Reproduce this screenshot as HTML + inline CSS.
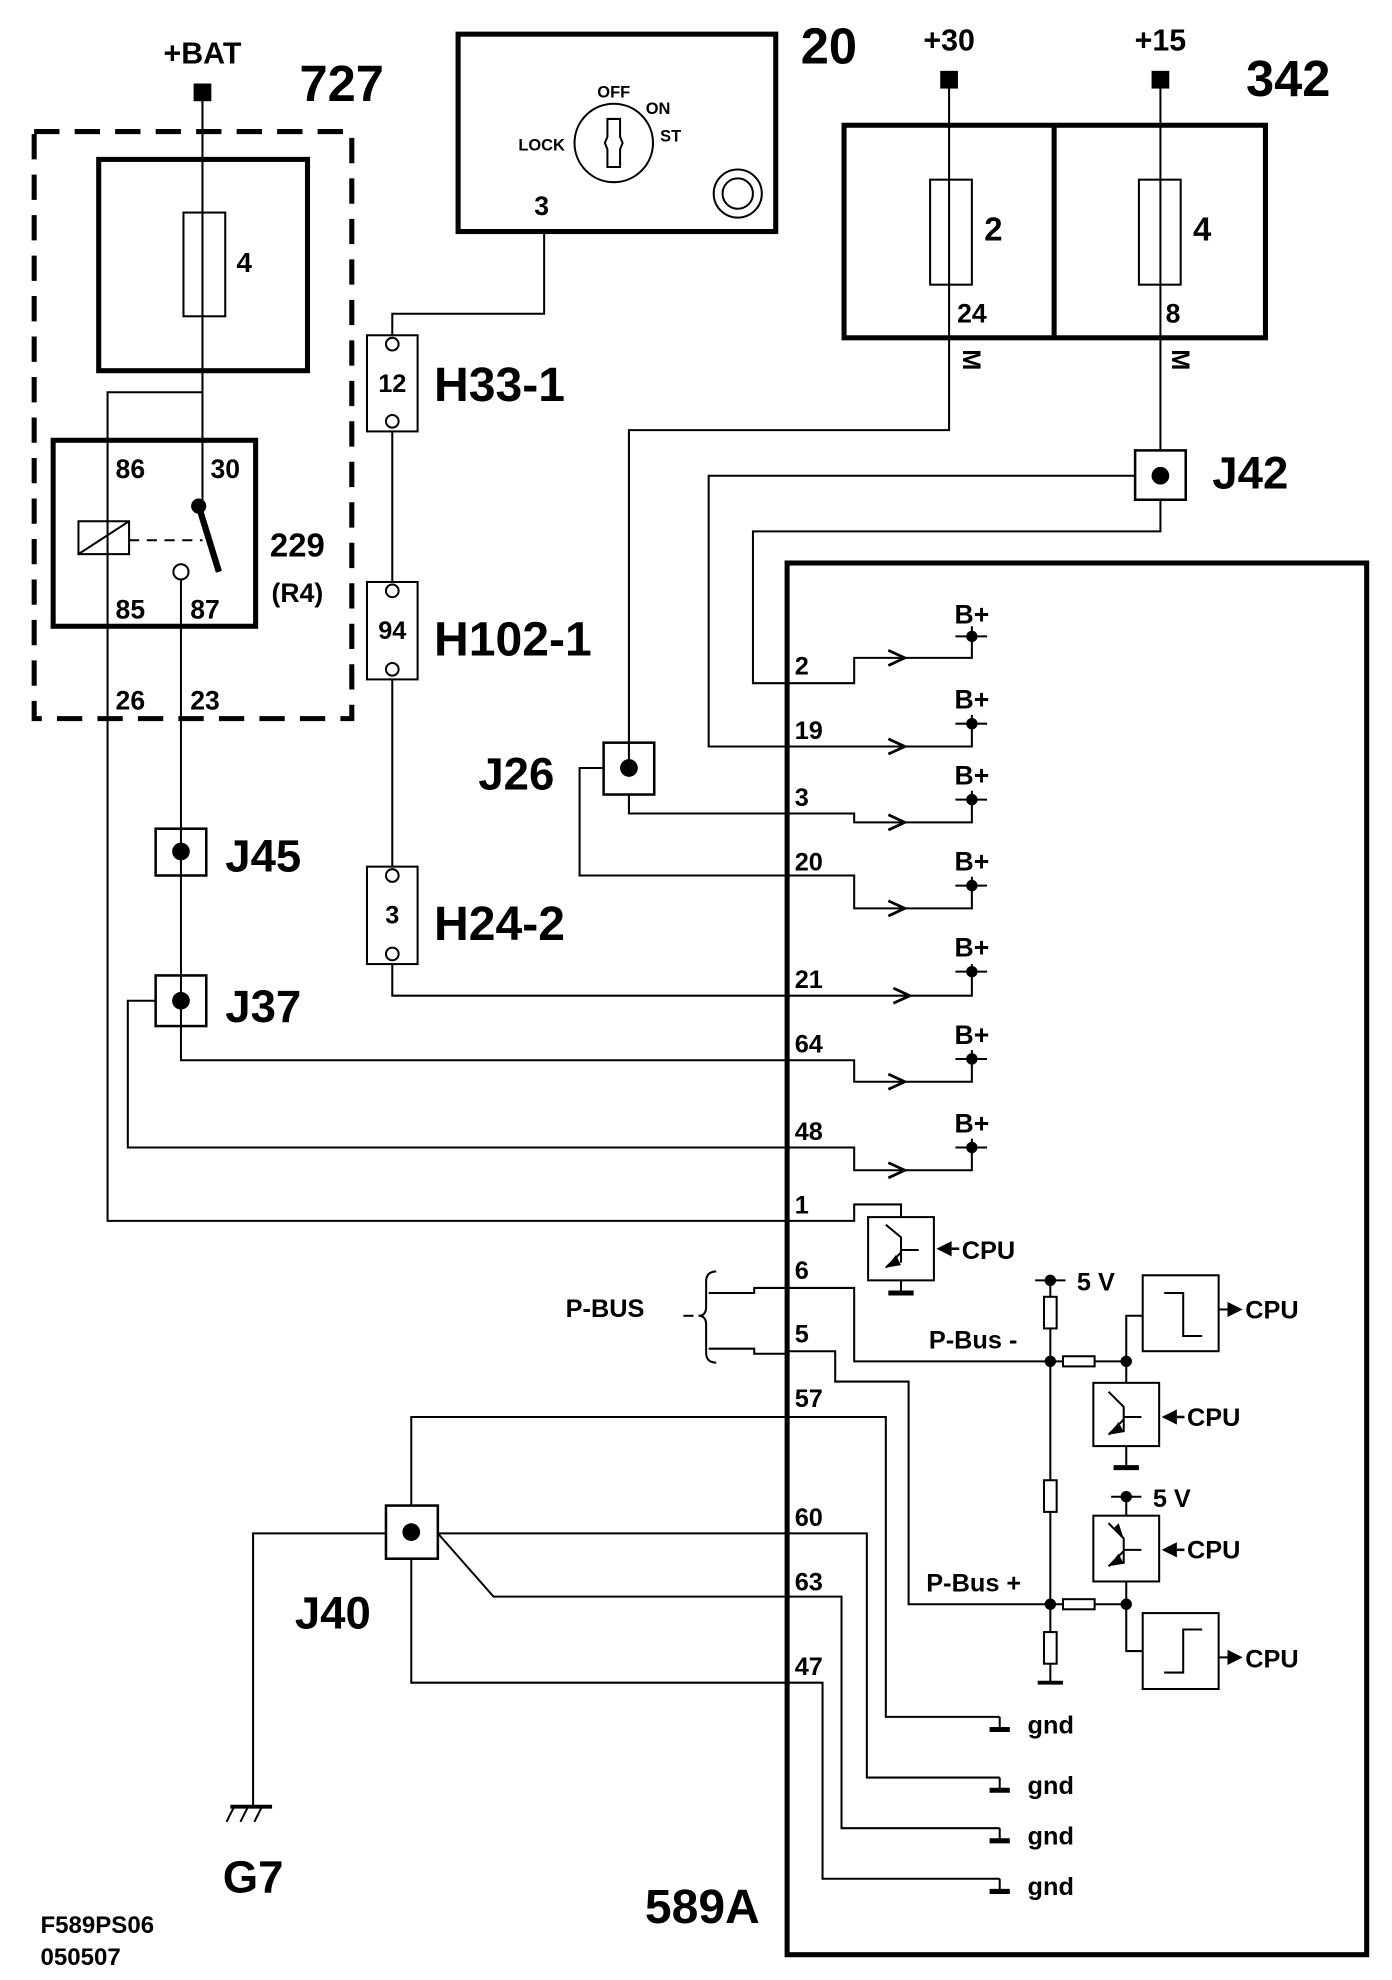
<!DOCTYPE html>
<html><head><meta charset="utf-8"><style>
html,body{margin:0;padding:0;background:#fff;}
svg{display:block;}
text{font-family:"Liberation Sans",Arial,sans-serif;font-weight:bold;fill:#000;}
</style></head><body>
<svg width="1392" height="1980" viewBox="0 0 1100 1565" preserveAspectRatio="none" xmlns="http://www.w3.org/2000/svg">
<g fill="none" stroke="#000" stroke-width="1.6">
<!-- 727 -->
<rect x="27" y="104" width="251" height="464" stroke-width="4" stroke-dasharray="20,12"/>
<rect x="78" y="126" width="165" height="167" stroke-width="4"/>
<rect x="145" y="168" width="33" height="82"/>
<line x1="160" y1="73" x2="160" y2="400"/>
<rect x="42" y="348" width="160" height="147" stroke-width="4"/>
<polyline points="160,310 85,310 85,965 622,965"/>
<rect x="62" y="412" width="40" height="26"/>
<line x1="62" y1="438" x2="102" y2="412"/>
<line x1="102" y1="427" x2="160" y2="427" stroke-dasharray="8,6"/>
<line x1="157" y1="400" x2="173" y2="452" stroke-width="5"/>
<circle cx="143" cy="452" r="6" fill="#fff"/>
<polyline points="143,458 143,838 675,838 675,855 768,855 768,830"/>
<rect x="123" y="655" width="40" height="37" stroke-width="2"/>
<rect x="123" y="771" width="40" height="40" stroke-width="2"/>
<polyline points="123,791 101,791 101,907 675,907 675,925 768,925 768,900"/>
<!-- ignition 20 -->
<rect x="362" y="27" width="251" height="156" stroke-width="4"/>
<circle cx="485" cy="113" r="31"/>
<path d="M480,94 H490 V108 L492,113 L490,118 V132 H480 V118 L478,113 L480,108 Z"/>
<circle cx="583" cy="153" r="19"/><circle cx="583" cy="153" r="12"/>
<polyline points="430,183 430,248 310,248 310,265"/>
<rect x="290" y="265" width="40" height="76"/>
<circle cx="310" cy="272" r="5"/><circle cx="310" cy="333" r="5"/>
<line x1="310" y1="341" x2="310" y2="460"/>
<rect x="290" y="460" width="40" height="77"/>
<circle cx="310" cy="467" r="5"/><circle cx="310" cy="529" r="5"/>
<line x1="310" y1="537" x2="310" y2="685"/>
<rect x="290" y="685" width="40" height="77"/>
<circle cx="310" cy="692" r="5"/><circle cx="310" cy="754" r="5"/>
<polyline points="310,762 310,787 768,787 768,762"/>
<!-- 342 -->
<rect x="667" y="99" width="333" height="168" stroke-width="4"/>
<line x1="833" y1="99" x2="833" y2="267" stroke-width="4"/>
<rect x="735" y="142" width="33" height="83"/>
<rect x="900" y="142" width="33" height="83"/>
<polyline points="750,63 750,340 497,340 497,607"/>
<polyline points="917,63 917,356"/>
<rect x="477" y="587" width="40" height="41" stroke-width="2"/>
<polyline points="497,628 497,643 675,643 675,650 768,650 768,625"/>
<polyline points="477,607 458,607 458,692 675,692 675,718 768,718 768,693"/>
<rect x="897" y="356" width="40" height="39" stroke-width="2"/>
<polyline points="897,376 560,376 560,590 768,590 768,565"/>
<polyline points="917,395 917,420 595,420 595,540 675,540 675,520 768,520 768,495"/>
<!-- 589A -->
<rect x="622" y="445" width="458" height="1100" stroke-width="4"/>
<!-- arrows -->
<g stroke-width="2.2">
<polyline points="702,514 715,520 702,526"/><polyline points="702,584 715,590 702,596"/>
<polyline points="702,644 715,650 702,656"/><polyline points="702,712 715,718 702,724"/>
<polyline points="706,781 719,787 706,793"/><polyline points="702,849 715,855 702,861"/>
<polyline points="702,919 715,925 702,931"/>
</g>
<g>
<line x1="755" y1="503" x2="780" y2="503"/><line x1="755" y1="572" x2="780" y2="572"/>
<line x1="755" y1="632" x2="780" y2="632"/><line x1="755" y1="700" x2="780" y2="700"/>
<line x1="755" y1="768" x2="780" y2="768"/><line x1="755" y1="837" x2="780" y2="837"/>
<line x1="755" y1="907" x2="780" y2="907"/>
</g>
<!-- pin 1 transistor -->
<polyline points="622,965 675,965 675,952 712,952 712,962"/>
<rect x="686" y="962" width="52" height="50"/>
<polyline points="700,968 712,978 712,998"/><line x1="712" y1="988" x2="726" y2="988"/>
<line x1="712" y1="990" x2="700" y2="1002"/>
<line x1="712" y1="1012" x2="712" y2="1022"/><line x1="702" y1="1022" x2="722" y2="1022" stroke-width="4"/>
<!-- p-bus -->
<path d="M566,1005 q-8,0 -8,8 v20 q0,7 -6,7 q6,0 6,7 v22 q0,8 8,8"/>
<line x1="540" y1="1040" x2="548" y2="1040"/>
<polyline points="560,1022 596,1022 596,1018 622,1018"/>
<polyline points="560,1066 596,1066 596,1070 622,1070"/>
<polyline points="622,1018 675,1018 675,1076 890,1076"/>
<polyline points="622,1068 660,1068 660,1092 718,1092 718,1268 890,1268"/>
<line x1="830" y1="1012" x2="830" y2="1330"/>
<line x1="818" y1="1012" x2="842" y2="1012"/>
<rect x="825" y="1025" width="10" height="25" fill="#fff"/>
<rect x="825" y="1170" width="10" height="25" fill="#fff"/>
<rect x="825" y="1290" width="10" height="25" fill="#fff"/>
<line x1="820" y1="1330" x2="840" y2="1330" stroke-width="3"/>
<rect x="840" y="1072" width="25" height="8" fill="#fff"/>
<rect x="840" y="1264" width="25" height="8" fill="#fff"/>
<polyline points="890,1076 890,1040 903,1040"/>
<rect x="903" y="1008" width="60" height="60"/>
<polyline points="920,1022 935,1022 935,1056 950,1056"/>
<line x1="963" y1="1035" x2="972" y2="1035"/>
<line x1="890" y1="1076" x2="890" y2="1093"/>
<rect x="864" y="1093" width="52" height="50"/>
<polyline points="876,1100 888,1112 888,1132"/><line x1="888" y1="1120" x2="902" y2="1120"/>
<line x1="888" y1="1122" x2="876" y2="1134"/>
<line x1="890" y1="1143" x2="890" y2="1160"/><line x1="880" y1="1160" x2="900" y2="1160" stroke-width="4"/>
<line x1="878" y1="1183" x2="902" y2="1183"/>
<line x1="890" y1="1183" x2="890" y2="1198"/>
<rect x="864" y="1198" width="52" height="52"/>
<polyline points="876,1204 888,1216 888,1236"/><line x1="888" y1="1225" x2="902" y2="1225"/>
<line x1="888" y1="1226" x2="876" y2="1238"/>
<line x1="890" y1="1250" x2="890" y2="1268"/>
<polyline points="890,1268 890,1305 903,1305"/>
<rect x="903" y="1275" width="60" height="60"/>
<polyline points="920,1322 935,1322 935,1288 950,1288"/>
<line x1="963" y1="1310" x2="972" y2="1310"/>
<!-- grounds -->
<polyline points="325,1190 325,1120 700,1120 700,1357 790,1357"/>
<polyline points="346,1212 685,1212 685,1405 790,1405"/>
<polyline points="346,1212 390,1262 665,1262 665,1445 790,1445"/>
<polyline points="325,1232 325,1330 650,1330 650,1485 790,1485"/>
<rect x="305" y="1190" width="41" height="42" stroke-width="2"/>
<polyline points="305,1212 200,1212 200,1428"/>
<line x1="182" y1="1428" x2="215" y2="1428" stroke-width="3"/>
<line x1="185" y1="1428" x2="179" y2="1440"/><line x1="196" y1="1428" x2="190" y2="1440"/><line x1="207" y1="1428" x2="201" y2="1440"/>
<g stroke-width="1.6">
<line x1="790" y1="1357" x2="790" y2="1367"/><line x1="790" y1="1405" x2="790" y2="1415"/>
<line x1="790" y1="1445" x2="790" y2="1455"/><line x1="790" y1="1485" x2="790" y2="1495"/>
</g>
<g stroke-width="4">
<line x1="782" y1="1367" x2="798" y2="1367"/><line x1="782" y1="1415" x2="798" y2="1415"/>
<line x1="782" y1="1455" x2="798" y2="1455"/><line x1="782" y1="1495" x2="798" y2="1495"/>
</g>
</g>
<g fill="#000">
<rect x="153" y="66" width="14" height="14"/><rect x="743" y="56" width="14" height="14"/><rect x="910" y="56" width="14" height="14"/>
<circle cx="157" cy="400" r="6"/>
<circle cx="143" cy="673" r="7"/><circle cx="143" cy="791" r="7"/>
<circle cx="497" cy="607" r="7"/><circle cx="917" cy="376" r="7"/><circle cx="325" cy="1211" r="7"/>
<circle cx="768" cy="503" r="4.5"/><circle cx="768" cy="572" r="4.5"/><circle cx="768" cy="632" r="4.5"/>
<circle cx="768" cy="700" r="4.5"/><circle cx="768" cy="768" r="4.5"/><circle cx="768" cy="837" r="4.5"/><circle cx="768" cy="907" r="4.5"/>
<circle cx="830" cy="1012" r="4.5"/><circle cx="830" cy="1076" r="4.5"/><circle cx="890" cy="1076" r="4.5"/>
<circle cx="830" cy="1268" r="4.5"/><circle cx="890" cy="1268" r="4.5"/><circle cx="890" cy="1183" r="4.5"/>
<polygon points="740,987 752,981 752,993"/><line x1="752" y1="987" x2="758" y2="987" stroke="#000" stroke-width="2"/>
<polygon points="918,1120 930,1114 930,1126"/><line x1="930" y1="1120" x2="936" y2="1120" stroke="#000" stroke-width="2"/>
<polygon points="918,1225 930,1219 930,1231"/><line x1="930" y1="1225" x2="936" y2="1225" stroke="#000" stroke-width="2"/>
<polygon points="982,1035 970,1029 970,1041"/><polygon points="982,1310 970,1304 970,1316"/>
<polygon points="700,1002 708,992 712,1000"/><polygon points="876,1134 884,1124 888,1132"/><polygon points="888,1216 880,1208 884,1204"/><polygon points="876,1238 884,1228 888,1236"/>
</g>
<!-- labels -->
<text x="160" y="50" font-size="24" text-anchor="middle">+BAT</text>
<text x="270" y="80" font-size="40" text-anchor="middle">727</text>
<text x="193" y="215" font-size="22" text-anchor="middle">4</text>
<text x="103" y="378" font-size="21" text-anchor="middle">86</text>
<text x="178" y="378" font-size="21" text-anchor="middle">30</text>
<text x="103" y="489" font-size="21" text-anchor="middle">85</text>
<text x="162" y="489" font-size="21" text-anchor="middle">87</text>
<text x="235" y="440" font-size="26" text-anchor="middle">229</text>
<text x="235" y="476" font-size="21" text-anchor="middle">(R4)</text>
<text x="103" y="561" font-size="21" text-anchor="middle">26</text>
<text x="162" y="561" font-size="21" text-anchor="middle">23</text>
<text x="178" y="689" font-size="36">J45</text>
<text x="178" y="808" font-size="36">J37</text>
<text x="655" y="50" font-size="40" text-anchor="middle">20</text>
<text x="485" y="77" font-size="13" text-anchor="middle">OFF</text>
<text x="520" y="90" font-size="13" text-anchor="middle">ON</text>
<text x="530" y="112" font-size="13" text-anchor="middle">ST</text>
<text x="428" y="119" font-size="13" text-anchor="middle">LOCK</text>
<text x="428" y="170" font-size="21" text-anchor="middle">3</text>
<text x="310" y="310" font-size="20" font-weight="normal" text-anchor="middle">12</text>
<text x="310" y="505" font-size="20" font-weight="normal" text-anchor="middle">94</text>
<text x="310" y="730" font-size="20" font-weight="normal" text-anchor="middle">3</text>
<text x="343" y="317" font-size="38">H33-1</text>
<text x="343" y="518" font-size="38">H102-1</text>
<text x="343" y="743" font-size="38">H24-2</text>
<text x="750" y="40" font-size="24" text-anchor="middle">+30</text>
<text x="917" y="40" font-size="24" text-anchor="middle">+15</text>
<text x="1018" y="76" font-size="40" text-anchor="middle">342</text>
<text x="785" y="190" font-size="26" text-anchor="middle">2</text>
<text x="950" y="190" font-size="26" text-anchor="middle">4</text>
<text x="768" y="255" font-size="21" text-anchor="middle">24</text>
<text x="927" y="255" font-size="21" text-anchor="middle">8</text>
<text x="0" y="0" font-size="20" transform="translate(761,276) rotate(90)">M</text>
<text x="0" y="0" font-size="20" transform="translate(926,276) rotate(90)">M</text>
<text x="958" y="386" font-size="36">J42</text>
<text x="378" y="624" font-size="36">J26</text>
<text x="233" y="1287" font-size="36">J40</text>
<text x="200" y="1496" font-size="36" text-anchor="middle">G7</text>
<text x="555" y="1520" font-size="38" text-anchor="middle">589A</text>
<text x="32" y="1528" font-size="19">F589PS06</text>
<text x="32" y="1553" font-size="19">050507</text>
<g font-size="20">
<text x="628" y="533">2</text><text x="628" y="584">19</text><text x="628" y="637">3</text>
<text x="628" y="688">20</text><text x="628" y="781">21</text><text x="628" y="832">64</text>
<text x="628" y="901">48</text><text x="628" y="959">1</text><text x="628" y="1011">6</text>
<text x="628" y="1061">5</text><text x="628" y="1112">57</text><text x="628" y="1206">60</text>
<text x="628" y="1257">63</text><text x="628" y="1324">47</text>
</g>
<g font-size="21" text-anchor="middle">
<text x="768" y="493">B+</text><text x="768" y="560">B+</text><text x="768" y="620">B+</text>
<text x="768" y="688">B+</text><text x="768" y="756">B+</text><text x="768" y="825">B+</text><text x="768" y="895">B+</text>
</g>
<g font-size="20">
<text x="760" y="995">CPU</text><text x="938" y="1127">CPU</text><text x="938" y="1232">CPU</text>
<text x="984" y="1042">CPU</text><text x="984" y="1318">CPU</text>
<text x="851" y="1020">5 V</text><text x="911" y="1191">5 V</text>
<text x="734" y="1066">P-Bus -</text><text x="732" y="1258">P-Bus +</text>
<text x="447" y="1041">P-BUS</text>
<text x="812" y="1370">gnd</text><text x="812" y="1418">gnd</text><text x="812" y="1458">gnd</text><text x="812" y="1498">gnd</text>
</g>
</svg>
</body></html>
